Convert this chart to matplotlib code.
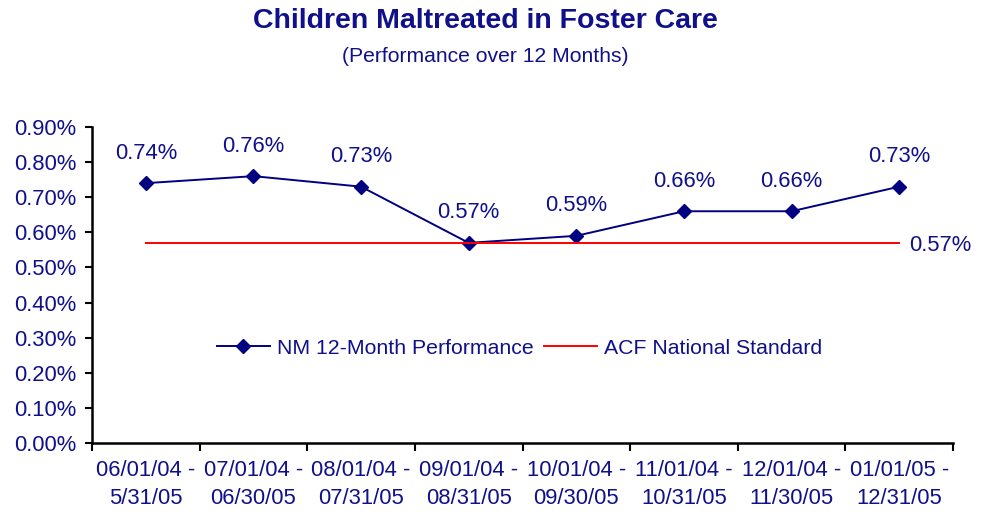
import matplotlib
matplotlib.use("Agg")
import matplotlib.pyplot as plt
import numpy as np

# data
periods = ["06/01/04 -\n5/31/05", "07/01/04 -\n06/30/05", "08/01/04 -\n07/31/05",
           "09/01/04 -\n08/31/05", "10/01/04 -\n09/30/05", "11/01/04 -\n10/31/05",
           "12/01/04 -\n11/30/05", "01/01/05 -\n12/31/05"]
nm_performance = [0.74, 0.76, 0.73, 0.57, 0.59, 0.66, 0.66, 0.73]
acf_standard = [0.57] * 8

navy = "#000080"
txt = "#10108a"
fs = 15.8
plt.rcParams['font.family'] = ['Liberation Sans', 'DejaVu Sans']

fig = plt.figure(figsize=(9.83, 5.16), dpi=100)
ax = fig.add_axes([0.0936, 0.1415, 0.8759, 0.6124])

x = np.arange(len(periods))
ax.plot(x, nm_performance, color=navy, lw=1.4, marker='D', markersize=7.5,
        label="NM 12-Month Performance")
ax.plot(x, acf_standard, color="#ff0000", lw=1.4, label="ACF National Standard")

for xi, v in zip(x, nm_performance):
    ax.annotate(f"{v:.2f}%", (xi, v), xytext=(0, 14), textcoords="offset points",
                ha="center", va="bottom", fontsize=fs, color=txt)
ax.annotate(f"{acf_standard[-1]:.2f}%", (x[-1], acf_standard[-1]), xytext=(7, -2),
            textcoords="offset points", ha="left", va="center", fontsize=fs, color=txt)

ax.set_xlim(-0.5, len(periods) - 0.5)
ax.set_ylim(0, 0.9)
ax.set_yticks(np.arange(0, 0.91, 0.1))
ax.set_yticklabels([f"{t:.2f}%" for t in np.arange(0, 0.91, 0.1)])
ax.set_xticks(x)
ax.set_xticklabels(periods)
ax.set_xticks(np.arange(-0.5, len(periods)), minor=True)
ax.tick_params(axis='x', which='major', length=0, pad=12, labelsize=fs, labelcolor=txt)
ax.tick_params(axis='x', which='minor', length=6, width=1.5, direction='out')
ax.tick_params(axis='y', length=5, width=1.5, pad=6, labelsize=fs, labelcolor=txt)
for lbl in ax.get_xticklabels():
    lbl.set_linespacing(1.45)

for s in ['top', 'right']:
    ax.spines[s].set_visible(False)
for s in ['left', 'bottom']:
    ax.spines[s].set_linewidth(1.8)

leg = ax.legend(loc='center', bbox_to_anchor=(0.4965, 0.30), ncol=2, frameon=False,
                fontsize=15.3, handlelength=2.5, handletextpad=0.33, columnspacing=0.47)
for t in leg.get_texts():
    t.set_color(txt)

fig.text(0.4935, 0.959, "Children Maltreated in Foster Care", ha='center', va='center',
         fontsize=20.5, fontweight='bold', color=txt)
fig.text(0.4935, 0.891, "(Performance over 12 Months)", ha='center', va='center',
         fontsize=15.2, color=txt)

fig.savefig("out.png", dpi=100)
